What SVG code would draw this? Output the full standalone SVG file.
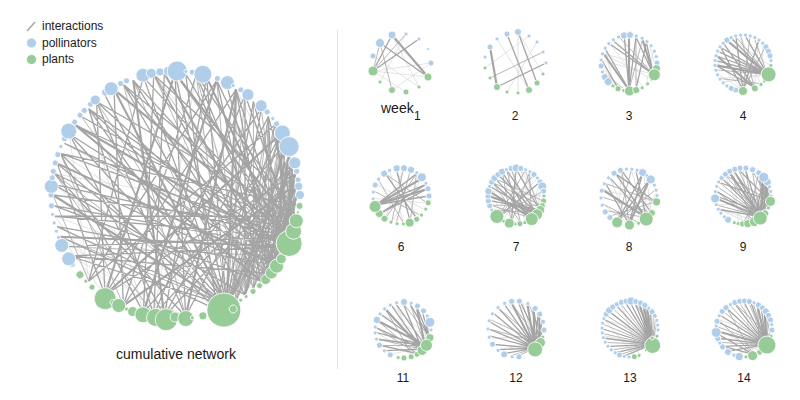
<svg xmlns="http://www.w3.org/2000/svg" width="800" height="400" viewBox="0 0 800 400">
<style>
.b{fill:#b0cde9;stroke:#fff;stroke-width:.8}
.g{fill:#97cb97;stroke:#fff;stroke-width:.8}
.e path{fill:none;stroke:#a4a4a4;vector-effect:non-scaling-stroke}
.e .w1{stroke-width:.8}
.e .w2{stroke-width:1.3}
.e .w3{stroke-width:2.1}
.e .lt{stroke:#dcdcdc;stroke-width:.8}
text{font-family:"Liberation Sans",Arial,Helvetica,sans-serif;fill:#1a1a1a}
.lab{font-size:12px;text-anchor:middle}
</style>
<rect width="800" height="400" fill="#fff"/>

<g id="legend">
<line x1="27" y1="31" x2="35" y2="22" stroke="#a4a4a4" stroke-width="1.4"/>
<text x="42" y="29.5" font-size="12">interactions</text>
<circle class="b" cx="31.5" cy="43" r="5" stroke="none"/>
<text x="42" y="46.5" font-size="12">pollinators</text>
<circle class="g" cx="31.5" cy="59.5" r="5" stroke="none"/>
<text x="42" y="63" font-size="12">plants</text>
</g>

<line id="divider" x1="337.5" y1="30" x2="337.5" y2="369" stroke="#e2e2e2" stroke-width="1"/>

<g id="cumulative">
<g class="e" transform="translate(175,195) scale(122)">
<path class="lt" d="M-.574 .819L-.94 .342M-.707 .707L-.866 -.5M-.423 .906L-.985 .174M.985 .174L-.985 -.174M.996 .087L.5 -.866M-.087 .996L-.94 .342M.087 .996L-.866 .5M.342 .94L-.996 -.087M-.174 .985L.174 -.985M.94 .342L-.174 -.985M.707 .707L-.94 -.342M.643 .766L-.985 .174M-.259 .966L-.707 -.707"/>
<path class="w1" d="M.866 .5L.966 -.259M.866 .5L.996 -.087M.866 .5L1 0M.866 .5L.866 -.5M.866 .5L.707 -.707M.766 .643L.966 -.259M.766 .643L.996 -.087M.766 .643L1 0M.766 .643L.766 -.643M.643 .766L.94 -.342M.643 .766L.985 -.174M.643 .766L1 0M.643 .766L.866 -.5M.643 .766L.643 -.766M.5 .866L.906 -.423M.5 .866L.966 -.259M.5 .866L.996 -.087M.5 .866L.766 -.643M.423 .906L.94 -.342M.423 .906L.985 -.174M.423 .906L1 0M.707 .707L.866 -.5M.707 .707L.94 -.342M.707 .707L.985 -.174M.707 .707L1 0M.707 .707L.766 -.643M.574 .819L.819 -.574M.574 .819L.966 -.259M.574 .819L.996 -.087M.819 .574L.94 -.342M.819 .574L1 0M.906 .423L.996 -.087M.906 .423L1 0M.94 .342L.966 -.259M.94 .342L1 0M.5 .866L.5 -.866M.5 .866L.342 -.94M.643 .766L.174 -.985M.643 .766L-.174 -.985M-.174 .985L-.985 -.174M-.423 .906L-.94 -.342M-.707 .707L-1 0M.342 .94L-.766 -.643M.087 .996L-.423 -.906M.866 .5L-.906 -.423M.866 .5L-.174 -.985M.866 .5L-.906 .423M.574 .819L.766 -.643M.5 .866L.94 -.342M.423 .906L.906 -.423M.423 .906L-.94 .342M.423 .906L-.985 -.174M.423 .906L-.643 -.766M.423 .906L-.342 -.94M.423 .906L.174 -.985M.423 .906L.574 -.819M.423 .906L.819 -.574M.342 .94L.866 -.5M.342 .94L.966 -.259"/>
<path class="w2" d="M.906 .423L-.866 .5M.906 .423L-.996 .087M.906 .423L-.906 -.423M.906 .423L-.707 -.707M.906 .423L-.342 -.94M.906 .423L.087 -.996M.906 .423L.5 -.866M.906 .423L.866 -.5M.906 .423L.966 -.259M.94 .342L-.906 .423M.94 .342L-.985 .174M.94 .342L-.996 -.087M.94 .342L-.94 -.342M.94 .342L-.766 -.643M.94 .342L-.259 -.966M.94 .342L0 -1M.94 .342L.342 -.94M.94 .342L.643 -.766M.94 .342L.94 -.342M.819 .574L-.966 .259M.819 .574L-.866 -.5M.819 .574L-.643 -.766M.819 .574L-.423 -.906M.819 .574L.174 -.985M.819 .574L.423 -.906M.819 .574L.766 -.643M.819 .574L.906 -.423M.819 .574L.985 -.174M.966 .259L-1 0M.966 .259L-.819 -.574M.966 .259L-.423 -.906M.966 .259L.574 -.819M.966 .259L.866 -.5M.766 .643L-.866 .5M.766 .643L-.985 -.174M.766 .643L-.707 -.707M.766 .643L-.174 -.985M.766 .643L.5 -.866M.423 .906L-.866 .5M.423 .906L-.966 .259M.423 .906L-.966 -.259M.423 .906L-.866 -.5M.423 .906L-.707 -.707M.423 .906L-.259 -.966M.423 .906L0 -1M.423 .906L.259 -.966M.423 .906L.707 -.707M.423 .906L.866 -.5M.423 .906L.996 -.087M.342 .94L-.94 .342M.342 .94L-.94 -.342M.342 .94L-.574 -.819M.342 .94L.087 -.996M.342 .94L.643 -.766M.087 .996L-.985 -.174M.087 .996L-.643 -.766M.087 .996L0 -1M.087 .996L.866 -.5M-.087 .996L-.866 -.5M-.087 .996L.259 -.966M-.087 .996L.766 -.643M-.087 .996L.985 -.174M-.174 .985L-.707 -.707M-.174 .985L-.087 -.996M-.174 .985L.574 -.819M-.174 .985L.966 -.259M-.259 .966L-.94 -.342M-.259 .966L-.174 -.985M-.259 .966L.906 -.423M-.423 .906L-.5 -.866M-.423 .906L.174 -.985M-.423 .906L.707 -.707M-.574 .819L-.966 -.259M-.574 .819L-.643 -.766M-.574 .819L.5 -.866M-.574 .819L.985 -.174M-.707 .707L-.259 -.966M-.707 .707L.342 -.94M-.707 .707L.819 -.574M.985 .174L-.985 .174M.985 .174L-.643 -.766M.985 .174L.174 -.985M.985 .174L.766 -.643M.996 .087L-.94 -.342M.996 .087L-.174 -.985M.707 .707L-.996 .087M.707 .707L-.342 -.94M.707 .707L.342 -.94M.707 .707L.996 -.087M.574 .819L-.996 -.087M.574 .819L-.423 -.906M.574 .819L.574 -.819"/>
<path class="w3" d="M.906 .423L-.94 .342M.906 .423L-.819 -.574M.906 .423L.259 -.966M.423 .906L-1 0M.423 .906L-.5 -.866M.423 .906L.5 -.866M.423 .906L.966 -.259M.819 .574L-.966 -.259M.819 .574L-.087 -.996M.94 .342L-.5 -.866M.94 .342L.819 -.574M-.574 .819L0 -1M-.574 .819L.866 -.5M-.087 .996L-.342 -.94M-.259 .966L.342 -.94M.707 .707L-.819 -.574M.966 .259L0 -1M.766 .643L.94 -.342M.866 .5L.985 -.174M.574 .819L.906 -.423M-.423 .906L.996 -.087M.087 .996L.5 -.866"/>
</g>
<g id="cumulative-pollinators" transform="translate(175,195)">
<circle class="b" r="3" transform="rotate(146)translate(124)"/>
<circle class="b" r="7" transform="rotate(149)translate(124)"/>
<circle class="b" r="7" transform="rotate(156)translate(124)"/>
<circle class="b" r="2" transform="rotate(160)translate(124)"/>
<circle class="b" r="2" transform="rotate(163)translate(124)"/>
<circle class="b" r="2" transform="rotate(167)translate(124)"/>
<circle class="b" r="2" transform="rotate(171)translate(124)"/>
<circle class="b" r="3" transform="rotate(175)translate(124)"/>
<circle class="b" r="3" transform="rotate(180)translate(124)"/>
<circle class="b" r="7" transform="rotate(184)translate(124)"/>
<circle class="b" r="3" transform="rotate(188)translate(124)"/>
<circle class="b" r="3" transform="rotate(191)translate(124)"/>
<circle class="b" r="3" transform="rotate(195)translate(124)"/>
<circle class="b" r="3" transform="rotate(199)translate(124)"/>
<circle class="b" r="2" transform="rotate(203)translate(124)"/>
<circle class="b" r="3" transform="rotate(207)translate(124)"/>
<circle class="b" r="8" transform="rotate(211)translate(124)"/>
<circle class="b" r="3" transform="rotate(216)translate(124)"/>
<circle class="b" r="3" transform="rotate(220)translate(124)"/>
<circle class="b" r="3" transform="rotate(223)translate(124)"/>
<circle class="b" r="3" transform="rotate(227)translate(124)"/>
<circle class="b" r="5" transform="rotate(230)translate(124)"/>
<circle class="b" r="4" transform="rotate(236)translate(124)"/>
<circle class="b" r="7" transform="rotate(239)translate(124)"/>
<circle class="b" r="3" transform="rotate(244)translate(124)"/>
<circle class="b" r="3" transform="rotate(247)translate(124)"/>
<circle class="b" r="7" transform="rotate(255)translate(124)"/>
<circle class="b" r="5" transform="rotate(259)translate(124)"/>
<circle class="b" r="4" transform="rotate(263)translate(124)"/>
<circle class="b" r="5" transform="rotate(267)translate(124)"/>
<circle class="b" r="10" transform="rotate(271)translate(124)"/>
<circle class="b" r="2" transform="rotate(275)translate(124)"/>
<circle class="b" r="3" transform="rotate(278)translate(124)"/>
<circle class="b" r="9" transform="rotate(283)translate(124)"/>
<circle class="b" r="3" transform="rotate(290)translate(124)"/>
<circle class="b" r="7" transform="rotate(295)translate(124)"/>
<circle class="b" r="2" transform="rotate(298)translate(124)"/>
<circle class="b" r="3" transform="rotate(302)translate(124)"/>
<circle class="b" r="6" transform="rotate(306)translate(124)"/>
<circle class="b" r="6" transform="rotate(314)translate(124)"/>
<circle class="b" r="3" transform="rotate(318)translate(124)"/>
<circle class="b" r="2" transform="rotate(322)translate(124)"/>
<circle class="b" r="3" transform="rotate(325)translate(124)"/>
<circle class="b" r="8" transform="rotate(330)translate(124)"/>
<circle class="b" r="10" transform="rotate(337)translate(124)"/>
<circle class="b" r="6" transform="rotate(345)translate(124)"/>
<circle class="b" r="3" transform="rotate(349)translate(124)"/>
<circle class="b" r="3" transform="rotate(353)translate(124)"/>
<circle class="b" r="4" transform="rotate(356)translate(124)"/>
<circle class="b" r="4.5" transform="rotate(0)translate(125)"/>
</g>
<g id="cumulative-plants" transform="translate(175,195)">
<circle class="g" r="4" transform="rotate(140)translate(124)"/>
<circle class="g" r="2" transform="rotate(136)translate(124)"/>
<circle class="g" r="3" transform="rotate(132)translate(124)"/>
<circle class="g" r="11" transform="rotate(124)translate(125)"/>
<circle class="g" r="3" transform="rotate(120)translate(124)"/>
<circle class="g" r="7" transform="rotate(117)translate(124)"/>
<circle class="g" r="2" transform="rotate(113)translate(124)"/>
<circle class="g" r="5" transform="rotate(110)translate(124)"/>
<circle class="g" r="8" transform="rotate(105)translate(124)"/>
<circle class="g" r="9" transform="rotate(99)translate(124)"/>
<circle class="g" r="11" transform="rotate(94)translate(125)"/>
<circle class="g" r="5" transform="rotate(90)translate(122)"/>
<circle class="g" r="8" transform="rotate(85)translate(124)"/>
<circle class="g" r="2" transform="rotate(82)translate(124)"/>
<circle class="g" r="4" transform="rotate(77)translate(124)"/>
<circle class="g" r="2" transform="rotate(58)translate(124)"/>
<circle class="g" r="2" transform="rotate(55)translate(124)"/>
<circle class="g" r="3" transform="rotate(51)translate(124)"/>
<circle class="g" r="3" transform="rotate(47)translate(124)"/>
<circle class="g" r="5" transform="rotate(43)translate(124)"/>
<circle class="g" r="6" transform="rotate(39)translate(124)"/>
<circle class="g" r="7" transform="rotate(35)translate(124)"/>
<circle class="g" r="5" transform="rotate(31)translate(124)"/>
<circle class="g" r="13" transform="rotate(23)translate(124)"/>
<circle class="g" r="8" transform="rotate(17)translate(124)"/>
<circle class="g" r="7" transform="rotate(12)translate(124)"/>
<circle class="g" r="1.5" transform="rotate(8)translate(124)"/>
<circle class="g" r="3.5" transform="rotate(5)translate(125)"/>
<circle class="g" r="17" transform="rotate(67)translate(125)"/>
<circle class="g" r="4" transform="rotate(63)translate(128)"/>
</g>
<text x="176" y="359" font-size="14" text-anchor="middle">cumulative network</text>
</g>

<g id="week1">
<g class="e">
<path class="lt" d="M373 71L428 77M392 90L431 63M419 87L373 56M406 92L373 71M373 71L431 63M380 82L406 34M419 87L392 35"/>
<path class="w1" d="M373 71L380 43M392 90L380 43M373 71L406 34"/>
<path class="w2" d="M373 71L392 35M373 71L419 39M380 43L428 77"/>
<path class="w3" d="M392 35L428 77"/>
</g>
<circle class="b" cx="380" cy="43" r="4.5"/>
<circle class="b" cx="392" cy="35" r="4"/>
<circle class="b" cx="406" cy="34" r="2"/>
<circle class="b" cx="419" cy="39" r="2"/>
<circle class="b" cx="373" cy="56" r="3"/>
<circle class="b" cx="428" cy="49" r="1.5"/>
<circle class="b" cx="431" cy="63" r="3"/>
<circle class="g" cx="373" cy="71" r="5"/>
<circle class="g" cx="428" cy="77" r="4"/>
<circle class="g" cx="380" cy="82" r="2"/>
<circle class="g" cx="392" cy="90" r="3.5"/>
<circle class="g" cx="406" cy="92" r="3"/>
<circle class="g" cx="419" cy="87" r="2"/>
<text x="381" y="113" font-size="14">week</text>
<text x="414" y="120" font-size="12">1</text>
</g>

<g id="week2">
<g class="e">
<path class="lt" d="M518 32L518 93M497 39L529 90M537 42L507 92M529 36L485 68M518 32L543 74"/>
<path class="w1" d="M543 52L490 78"/>
<path class="w2" d="M507 34L529 90M518 32L537 83M546 63L497 87"/>
<path class="w3" d="M490 47L497 87"/>
</g>
<circle class="b" cx="518" cy="32" r="3.5"/>
<circle class="b" cx="507" cy="34" r="3"/>
<circle class="b" cx="529" cy="36" r="2"/>
<circle class="b" cx="497" cy="39" r="2"/>
<circle class="b" cx="537" cy="42" r="2"/>
<circle class="b" cx="490" cy="47" r="3"/>
<circle class="b" cx="543" cy="52" r="2"/>
<circle class="b" cx="485" cy="57" r="2"/>
<circle class="b" cx="546" cy="63" r="2"/>
<circle class="g" cx="485" cy="68" r="2"/>
<circle class="g" cx="543" cy="74" r="2"/>
<circle class="g" cx="490" cy="78" r="2"/>
<circle class="g" cx="537" cy="83" r="3"/>
<circle class="g" cx="497" cy="87" r="3.5"/>
<circle class="g" cx="529" cy="90" r="3.5"/>
<circle class="g" cx="507" cy="92" r="2"/>
<circle class="g" cx="518" cy="93" r="2"/>
<text class="lab" x="515" y="120">2</text>
</g>

<g id="week3">
<g class="e" transform="translate(629,63) scale(27)">
<path class="lt" d="M.985 .174L.766 -.643M-.423 .906L-.996 .087M.5 .866L-.707 -.707M.819 .574L-.94 -.342M-.574 .819L-.866 -.5M.643 .766L.906 -.423M.906 .423L-.996 -.087M.985 .174L-.94 -.342"/>
<path class="w1" d="M.259 .966L.259 -.966M-.174 .985L-.94 .342M0 1L.5 -.866M.906 .423L-.342 -.94"/>
<path class="w2" d="M0 1L-.174 -.985M0 1L.259 -.966M0 1L-.866 -.5M.906 .423L-.707 -.707M.906 .423L-.574 -.819M.906 .423L.259 -.966M.906 .423L.643 -.766M.259 .966L.643 -.766M-.423 .906L-.996 -.087"/>
<path class="w3" d="M0 1L0 -1M0 1L-.94 -.342M.906 .423L.5 -.866"/>
</g>
<g transform="translate(629,63)">
<circle class="b" r="3.5" transform="rotate(260)translate(28)"/>
<circle class="b" r="3.5" transform="rotate(272)translate(28)"/>
<circle class="b" r="2" transform="rotate(285)translate(28)"/>
<circle class="b" r="2" transform="rotate(298)translate(28)"/>
<circle class="b" r="2" transform="rotate(310)translate(28)"/>
<circle class="b" r="2" transform="rotate(322)translate(28)"/>
<circle class="b" r="2" transform="rotate(335)translate(28)"/>
<circle class="b" r="2" transform="rotate(347)translate(28)"/>
<circle class="b" r="3" transform="rotate(0)translate(28)"/>
<circle class="b" r="2" transform="rotate(248)translate(28)"/>
<circle class="b" r="2" transform="rotate(236)translate(28)"/>
<circle class="b" r="2" transform="rotate(224)translate(28)"/>
<circle class="b" r="2" transform="rotate(212)translate(28)"/>
<circle class="b" r="2" transform="rotate(199)translate(28)"/>
<circle class="b" r="2" transform="rotate(186)translate(28)"/>
<circle class="b" r="3" transform="rotate(174)translate(28)"/>
<circle class="b" r="2" transform="rotate(161)translate(28)"/>
<circle class="b" r="3.5" transform="rotate(150)translate(28)"/>
<circle class="b" r="4" transform="rotate(138)translate(28)"/>
<circle class="g" r="2" transform="rotate(125)translate(28)"/>
<circle class="g" r="3" transform="rotate(113)translate(28)"/>
<circle class="g" r="2" transform="rotate(101)translate(28)"/>
<circle class="g" r="5" transform="rotate(89)translate(28)"/>
<circle class="g" r="3.5" transform="rotate(75)translate(28)"/>
<circle class="g" r="2" transform="rotate(62)translate(28)"/>
<circle class="g" r="2" transform="rotate(48)translate(28)"/>
<circle class="g" r="2" transform="rotate(36)translate(28)"/>
<circle class="g" r="4" transform="rotate(12)translate(28)"/>
<circle class="g" r="6" transform="rotate(25)translate(28)"/>
</g>
<text class="lab" x="629" y="120">3</text>
</g>

<g id="week4">
<g class="e" transform="translate(743,63) scale(27)">
<path class="lt" d="M.906 .423L-.707 .707M.996 .087L-.423 -.906M0 1L-.996 -.087M.766 .643L.707 -.707M.643 .766L-.087 -.996M.423 .906L.574 -.819M.906 .423L-.819 .574M0 1L-.906 .423"/>
<path class="w1" d="M.906 .423L-.966 .259M.906 .423L-.259 -.966M.906 .423L.423 -.906M0 1L.259 -.966M0 1L.819 -.574M.423 .906L-.087 -.996M.643 .766L-.819 .574"/>
<path class="w2" d="M.906 .423L-.906 -.423M.906 .423L-.819 -.574M.906 .423L-.966 -.259M.906 .423L-.996 -.087M.906 .423L-.423 -.906M.906 .423L.087 -.996M0 1L-.819 -.574M0 1L-.259 -.966M0 1L.574 -.819M.423 .906L-.996 .087M.423 .906L-.707 -.707"/>
<path class="w3" d="M.906 .423L-.574 -.819M.423 .906L-.966 -.259M.906 .423L-.996 .087"/>
</g>
<g transform="translate(743,63)">
<circle class="b" r="3" transform="rotate(105)translate(28)"/>
<circle class="b" r="3" transform="rotate(115)translate(28)"/>
<circle class="b" r="2" transform="rotate(125)translate(28)"/>
<circle class="b" r="2" transform="rotate(135)translate(28)"/>
<circle class="b" r="2" transform="rotate(145)translate(28)"/>
<circle class="b" r="2" transform="rotate(155)translate(28)"/>
<circle class="b" r="2" transform="rotate(165)translate(28)"/>
<circle class="b" r="2" transform="rotate(175)translate(28)"/>
<circle class="b" r="2" transform="rotate(185)translate(28)"/>
<circle class="b" r="2" transform="rotate(195)translate(28)"/>
<circle class="b" r="2" transform="rotate(205)translate(28)"/>
<circle class="b" r="2" transform="rotate(215)translate(28)"/>
<circle class="b" r="2" transform="rotate(225)translate(28)"/>
<circle class="b" r="3" transform="rotate(235)translate(28)"/>
<circle class="b" r="2" transform="rotate(245)translate(28)"/>
<circle class="b" r="2" transform="rotate(255)translate(28)"/>
<circle class="b" r="2" transform="rotate(265)translate(28)"/>
<circle class="b" r="2" transform="rotate(275)translate(28)"/>
<circle class="b" r="2" transform="rotate(285)translate(28)"/>
<circle class="b" r="2" transform="rotate(295)translate(28)"/>
<circle class="b" r="2" transform="rotate(305)translate(28)"/>
<circle class="b" r="2" transform="rotate(315)translate(28)"/>
<circle class="b" r="3" transform="rotate(325)translate(28)"/>
<circle class="b" r="3" transform="rotate(335)translate(28)"/>
<circle class="b" r="3" transform="rotate(345)translate(28)"/>
<circle class="b" r="2" transform="rotate(355)translate(28)"/>
<circle class="g" r="2" transform="rotate(5)translate(28)"/>
<circle class="g" r="2" transform="rotate(40)translate(28)"/>
<circle class="g" r="2" transform="rotate(50)translate(28)"/>
<circle class="g" r="3.5" transform="rotate(65)translate(28)"/>
<circle class="g" r="4.5" transform="rotate(90)translate(28)"/>
<circle class="g" r="7.5" transform="rotate(24)translate(28)"/>
</g>
<text class="lab" x="743" y="120">4</text>
</g>

<g id="week6">
<g class="e" transform="translate(401,196) scale(27)">
<path class="lt" d="M.866 .5L-.906 -.423M-.574 .819L.087 -.996M.087 .996L-.423 -.906M-.342 .94L.766 -.643M.966 .259L-.996 .087M.574 .819L-.174 -.985"/>
<path class="w1" d="M.966 .259L-.574 -.819M-.342 .94L.087 -.996M.087 .996L-.819 -.574M-.174 .985L.342 -.94M.707 .707L-.985 -.174M-.574 .819L.574 -.819M.342 .94L.574 -.819"/>
<path class="w2" d="M-.94 .342L1 0M-.94 .342L.906 -.423M-.94 .342L.574 -.819M-.766 .643L.906 -.423M.342 .94L-.174 -.985M.574 .819L-.574 -.819M-.766 .643L.966 -.259"/>
<path class="w3" d="M-.94 .342L.966 -.259M-.94 .342L.766 -.643"/>
</g>
<g transform="translate(401,196)">
<circle class="b" r="3" transform="rotate(0)translate(28)"/>
<circle class="b" r="3" transform="rotate(345)translate(28)"/>
<circle class="b" r="2" transform="rotate(333)translate(28)"/>
<circle class="b" r="4.5" transform="rotate(318)translate(28)"/>
<circle class="b" r="2" transform="rotate(304)translate(28)"/>
<circle class="b" r="3.5" transform="rotate(291)translate(28)"/>
<circle class="b" r="3.5" transform="rotate(276)translate(28)"/>
<circle class="b" r="3.5" transform="rotate(261)translate(28)"/>
<circle class="b" r="2" transform="rotate(246)translate(28)"/>
<circle class="b" r="3.5" transform="rotate(233)translate(28)"/>
<circle class="b" r="2" transform="rotate(217)translate(28)"/>
<circle class="b" r="3" transform="rotate(203)translate(28)"/>
<circle class="b" r="2" transform="rotate(188)translate(28)"/>
<circle class="b" r="2" transform="rotate(174)translate(28)"/>
<circle class="g" r="4" transform="rotate(141)translate(28)"/>
<circle class="g" r="6" transform="rotate(158)translate(28)"/>
<circle class="g" r="3.5" transform="rotate(126)translate(28)"/>
<circle class="g" r="2" transform="rotate(111)translate(28)"/>
<circle class="g" r="2" transform="rotate(98)translate(28)"/>
<circle class="g" r="2" transform="rotate(85)translate(28)"/>
<circle class="g" r="4.5" transform="rotate(72)translate(28)"/>
<circle class="g" r="3" transform="rotate(56)translate(28)"/>
<circle class="g" r="2" transform="rotate(43)translate(28)"/>
<circle class="g" r="2" transform="rotate(28)translate(28)"/>
<circle class="g" r="3" transform="rotate(14)translate(28)"/>
</g>
<text class="lab" x="401" y="251">6</text>
</g>

<g id="week7">
<g class="e" transform="translate(516,196) scale(27)">
<path class="lt" d="M1 0L-.985 -.174M.342 .94L-.174 -.985M-.5 .866L.766 -.643M.643 .766L.174 -.985M.866 .5L-.643 -.766M-.643 .766L-.174 -.985M.766 .643L.94 -.342M.94 .342L.174 -.985M-.342 .94L-.985 -.174M.5 .866L.866 -.5"/>
<path class="w1" d="M.574 .819L-.174 -.985M.866 .5L.342 -.94M.574 .819L.5 -.866M-.174 .985L-.5 -.866M-.174 .985L.5 -.866M-.643 .766L.643 -.766M-.643 .766L.342 -.94M-.643 .766L.985 -.174M.94 .342L-.866 -.5M.94 .342L-.94 .342M.985 .174L-.766 -.643M.174 .985L-.342 -.94M.174 .985L-.866 -.5M.766 .643L-.866 .5M.574 .819L-.94 .342"/>
<path class="w2" d="M.766 .643L-.94 -.342M.866 .5L-.985 .174M.574 .819L-.766 -.643M.574 .819L-.5 -.866M.766 .643L-.342 -.94M.866 .5L0 -1M-.174 .985L0 -1M-.643 .766L.866 -.5M.574 .819L-.866 -.5M.766 .643L-.643 -.766"/>
<path class="w3" d="M.574 .819L-.985 -.174M.766 .643L-1 0"/>
</g>
<g transform="translate(516,196)">
<circle class="b" r="2" transform="rotate(150)translate(28)"/>
<circle class="b" r="3" transform="rotate(160)translate(28)"/>
<circle class="b" r="3" transform="rotate(170)translate(28)"/>
<circle class="b" r="3" transform="rotate(180)translate(28)"/>
<circle class="b" r="3.5" transform="rotate(190)translate(28)"/>
<circle class="b" r="2" transform="rotate(200)translate(28)"/>
<circle class="b" r="3" transform="rotate(210)translate(28)"/>
<circle class="b" r="3.5" transform="rotate(220)translate(28)"/>
<circle class="b" r="3" transform="rotate(230)translate(28)"/>
<circle class="b" r="3.5" transform="rotate(240)translate(28)"/>
<circle class="b" r="2" transform="rotate(250)translate(28)"/>
<circle class="b" r="3" transform="rotate(260)translate(28)"/>
<circle class="b" r="4" transform="rotate(270)translate(28)"/>
<circle class="b" r="3" transform="rotate(280)translate(28)"/>
<circle class="b" r="2" transform="rotate(290)translate(28)"/>
<circle class="b" r="2" transform="rotate(300)translate(28)"/>
<circle class="b" r="3" transform="rotate(310)translate(28)"/>
<circle class="b" r="2" transform="rotate(320)translate(28)"/>
<circle class="b" r="3" transform="rotate(330)translate(28)"/>
<circle class="b" r="4.5" transform="rotate(340)translate(28)"/>
<circle class="b" r="3" transform="rotate(350)translate(28)"/>
<circle class="g" r="2" transform="rotate(0)translate(28)"/>
<circle class="g" r="3" transform="rotate(10)translate(28)"/>
<circle class="g" r="3" transform="rotate(20)translate(28)"/>
<circle class="g" r="4.5" transform="rotate(30)translate(28)"/>
<circle class="g" r="5.5" transform="rotate(41)translate(28)"/>
<circle class="g" r="6.5" transform="rotate(56)translate(28)"/>
<circle class="g" r="2" transform="rotate(72)translate(28)"/>
<circle class="g" r="3" transform="rotate(82)translate(28)"/>
<circle class="g" r="2" transform="rotate(92)translate(28)"/>
<circle class="g" r="5" transform="rotate(104)translate(28)"/>
<circle class="g" r="2" transform="rotate(117)translate(28)"/>
<circle class="g" r="7" transform="rotate(133)translate(28)"/>
</g>
<text class="lab" x="516" y="251">7</text>
</g>

<g id="week8">
<g class="e" transform="translate(629,197) scale(27)">
<path class="lt" d="M.643 .766L.087 -.996M0 1L-.966 .259M.819 .574L.643 -.766M-.423 .906L-.259 -.966M.985 .174L-.966 -.259M.342 .94L.996 -.087M0 1L-.707 -.707M.643 .766L.574 -.819"/>
<path class="w1" d="M-.423 .906L.966 -.259M.985 .174L-.866 -.5M.819 .574L-1 0M0 1L-.259 -.966M.342 .94L-.966 .259M-.423 .906L.087 -.996M.643 .766L-.866 .5M.985 .174L-.707 .707"/>
<path class="w2" d="M.643 .766L-.707 -.707M.643 .766L-.5 -.866M0 1L.5 -.866M-.423 .906L.766 -.643M-.423 .906L.5 -.866M.985 .174L-.5 -.866M.819 .574L-.259 -.966M.643 .766L.259 -.966M0 1L-.866 -.5"/>
<path class="w3" d="M.643 .766L-.966 -.259M0 1L.766 -.643"/>
</g>
<g transform="translate(629,197)">
<circle class="b" r="3" transform="rotate(133)translate(28)"/>
<circle class="b" r="3" transform="rotate(148)translate(28)"/>
<circle class="b" r="2" transform="rotate(163)translate(28)"/>
<circle class="b" r="2" transform="rotate(178)translate(28)"/>
<circle class="b" r="2.5" transform="rotate(193)translate(28)"/>
<circle class="b" r="2" transform="rotate(208)translate(28)"/>
<circle class="b" r="2" transform="rotate(223)translate(28)"/>
<circle class="b" r="3" transform="rotate(238)translate(28)"/>
<circle class="b" r="3" transform="rotate(252)translate(28)"/>
<circle class="b" r="2" transform="rotate(265)translate(28)"/>
<circle class="b" r="2" transform="rotate(276)translate(28)"/>
<circle class="b" r="2" transform="rotate(287)translate(28)"/>
<circle class="b" r="4" transform="rotate(299)translate(28)"/>
<circle class="b" r="2" transform="rotate(310)translate(28)"/>
<circle class="b" r="4.5" transform="rotate(321)translate(28)"/>
<circle class="b" r="2" transform="rotate(335)translate(28)"/>
<circle class="b" r="2" transform="rotate(346)translate(28)"/>
<circle class="b" r="2" transform="rotate(357)translate(28)"/>
<circle class="g" r="4" transform="rotate(10)translate(28)"/>
<circle class="g" r="3.5" transform="rotate(35)translate(28)"/>
<circle class="g" r="2" transform="rotate(70)translate(28)"/>
<circle class="g" r="7" transform="rotate(52)translate(28)"/>
<circle class="g" r="5.5" transform="rotate(115)translate(28)"/>
<circle class="g" r="5" transform="rotate(89)translate(28)"/>
</g>
<text class="lab" x="629" y="251">8</text>
</g>

<g id="week9">
<g class="e" transform="translate(743,196) scale(27)">
<path class="lt" d="M.174 .985L-.866 .5M0 1L-.643 -.766M-.174 .985L-.342 -.94M.985 .174L-.94 .342M.423 .906L-.866 .5M.174 .985L0 -1"/>
<path class="w1" d="M.643 .766L-.94 .342M.643 .766L-.94 -.342M.643 .766L-.866 -.5M.643 .766L-.643 -.766M.643 .766L-.174 -.985M.643 .766L.342 -.94M.985 .174L-.643 -.766M.985 .174L.342 -.94M.766 .643L-.766 -.643M.766 .643L.574 -.819M.423 .906L-.985 -.174M.423 .906L-.5 -.866M.423 .906L.087 -.996M.766 .643L.94 -.342M.766 .643L.985 -.174M.766 .643L1 0M.643 .766L.866 -.5M.643 .766L.94 -.342M.643 .766L.985 -.174M.423 .906L.866 -.5M.423 .906L.985 -.174M.906 .423L.766 -.643M.906 .423L.866 -.5M.906 .423L.94 -.342M.174 .985L.574 -.819M0 1L.866 -.5M.985 .174L.766 -.643"/>
<path class="w2" d="M.643 .766L-.866 .5M.643 .766L-.985 -.174M.643 .766L-.766 -.643M.643 .766L-.342 -.94M.643 .766L.087 -.996M.985 .174L-.866 -.5M.985 .174L-.174 -.985M.766 .643L-1 0M.766 .643L-.342 -.94M.423 .906L.766 -.643M.423 .906L.94 -.342M.906 .423L.574 -.819"/>
<path class="w3" d="M.643 .766L-.996 .087M.643 .766L-.5 -.866M.643 .766L.766 -.643M.766 .643L.866 -.5"/>
</g>
<g transform="translate(743,196)">
<circle class="b" r="3.5" transform="rotate(122)translate(28)"/>
<circle class="b" r="2" transform="rotate(132)translate(28)"/>
<circle class="b" r="2" transform="rotate(142)translate(28)"/>
<circle class="b" r="2" transform="rotate(152)translate(28)"/>
<circle class="b" r="2" transform="rotate(162)translate(28)"/>
<circle class="b" r="4.5" transform="rotate(175)translate(28)"/>
<circle class="b" r="2" transform="rotate(189)translate(28)"/>
<circle class="b" r="2" transform="rotate(200)translate(28)"/>
<circle class="b" r="2" transform="rotate(210)translate(28)"/>
<circle class="b" r="2.5" transform="rotate(220)translate(28)"/>
<circle class="b" r="3" transform="rotate(231)translate(28)"/>
<circle class="b" r="3" transform="rotate(242)translate(28)"/>
<circle class="b" r="3" transform="rotate(253)translate(28)"/>
<circle class="b" r="3" transform="rotate(264)translate(28)"/>
<circle class="b" r="3" transform="rotate(276)translate(28)"/>
<circle class="b" r="3" transform="rotate(290)translate(28)"/>
<circle class="b" r="3" transform="rotate(304)translate(28)"/>
<circle class="b" r="4" transform="rotate(330)translate(28)"/>
<circle class="b" r="5" transform="rotate(318)translate(28)"/>
<circle class="b" r="2" transform="rotate(341)translate(28)"/>
<circle class="b" r="2" transform="rotate(351)translate(28)"/>
<circle class="b" r="2" transform="rotate(0)translate(28)"/>
<circle class="g" r="2" transform="rotate(108)translate(28)"/>
<circle class="g" r="2" transform="rotate(100)translate(28)"/>
<circle class="g" r="3" transform="rotate(91)translate(28)"/>
<circle class="g" r="4" transform="rotate(80)translate(28)"/>
<circle class="g" r="5" transform="rotate(66)translate(28)"/>
<circle class="g" r="2" transform="rotate(25)translate(28)"/>
<circle class="g" r="4" transform="rotate(39)translate(28)"/>
<circle class="g" r="7" transform="rotate(52)translate(28)"/>
<circle class="g" r="5" transform="rotate(11)translate(28)"/>
</g>
<text class="lab" x="743" y="251">9</text>
</g>

<g id="week11">
<g class="e" transform="translate(403,330) scale(27)">
<path class="lt" d="M.819 .574L-.423 .906M.966 .259L-.423 -.906M.5 .866L-.259 -.966M.707 .707L.966 -.259M.342 .94L-.996 .087M.966 .259L-.819 -.574"/>
<path class="w1" d="M.5 .866L-.94 -.342M.342 .94L-.643 -.766M.966 .259L0 -1M.707 .707L-.94 .342M.5 .866L-.996 -.087M.819 .574L-.819 .574M.966 .259L.866 -.5M.819 .574L.259 -.966"/>
<path class="w2" d="M.819 .574L-.94 .342M.819 .574L-.996 .087M.707 .707L-.996 -.087M.819 .574L-.819 -.574M.707 .707L-.423 -.906M.819 .574L-.259 -.966M.966 .259L.259 -.966M.966 .259L.5 -.866M.707 .707L0 -1M.966 .259L.707 -.707M.5 .866L-.819 .574M.707 .707L-.643 .766"/>
<path class="w3" d="M.819 .574L-.94 -.342M.707 .707L-.643 -.766M.819 .574L.5 -.866"/>
</g>
<g transform="translate(403,330)">
<circle class="b" r="3" transform="rotate(117)translate(28)"/>
<circle class="b" r="2" transform="rotate(132)translate(28)"/>
<circle class="b" r="3" transform="rotate(147)translate(28)"/>
<circle class="b" r="2" transform="rotate(161)translate(28)"/>
<circle class="b" r="2" transform="rotate(174)translate(28)"/>
<circle class="b" r="2" transform="rotate(186)translate(28)"/>
<circle class="b" r="3.5" transform="rotate(201)translate(28)"/>
<circle class="b" r="2" transform="rotate(215)translate(28)"/>
<circle class="b" r="2" transform="rotate(229)translate(28)"/>
<circle class="b" r="2" transform="rotate(243)translate(28)"/>
<circle class="b" r="2" transform="rotate(257)translate(28)"/>
<circle class="b" r="3.5" transform="rotate(272)translate(28)"/>
<circle class="b" r="2" transform="rotate(287)translate(28)"/>
<circle class="b" r="3" transform="rotate(301)translate(28)"/>
<circle class="b" r="3" transform="rotate(317)translate(28)"/>
<circle class="b" r="2" transform="rotate(330)translate(28)"/>
<circle class="b" r="5" transform="rotate(344)translate(28)"/>
<circle class="b" r="2" transform="rotate(0)translate(28)"/>
<circle class="g" r="2" transform="rotate(100)translate(28)"/>
<circle class="g" r="3" transform="rotate(88)translate(28)"/>
<circle class="g" r="3" transform="rotate(73)translate(28)"/>
<circle class="g" r="3" transform="rotate(60)translate(28)"/>
<circle class="g" r="4" transform="rotate(16)translate(28)"/>
<circle class="g" r="5" transform="rotate(47)translate(28)"/>
<circle class="g" r="6" transform="rotate(33)translate(28)"/>
</g>
<text class="lab" x="403" y="382">11</text>
</g>

<g id="week12">
<g class="e" transform="translate(516,329) scale(27)">
<path class="lt" d="M.966 .259L-.94 .342M.866 .5L-.643 .766M.966 .259L-.342 -.94M.707 .707L.259 -.966"/>
<path class="w1" d="M.866 .5L-.94 -.342M.866 .5L-.643 -.766M.866 .5L-.174 -.985M.707 .707L1 0M.866 .5L.966 -.259M.966 .259L.5 -.866M.966 .259L.819 -.574M.866 .5L-1 0M.707 .707L-.174 .985M.707 .707L.087 .996"/>
<path class="w2" d="M.707 .707L-.423 .906M.707 .707L-.643 .766M.707 .707L-.819 .574M.707 .707L-.966 .259M.707 .707L-1 0M.707 .707L-.966 -.259M.707 .707L-.819 -.574M.707 .707L-.643 -.766M.707 .707L-.423 -.906M.707 .707L.087 -.996M.707 .707L.819 -.574M.707 .707L.966 -.259M.866 .5L.174 -.985M.866 .5L.643 -.766"/>
<path class="w3" d="M.707 .707L-.174 -.985M.707 .707L.423 -.906M.707 .707L.643 -.766M.866 .5L.866 -.5"/>
</g>
<g transform="translate(516,329)">
<circle class="b" r="3" transform="rotate(84)translate(28)"/>
<circle class="b" r="2" transform="rotate(98)translate(28)"/>
<circle class="b" r="3.5" transform="rotate(115)translate(28)"/>
<circle class="b" r="2" transform="rotate(130)translate(28)"/>
<circle class="b" r="3" transform="rotate(147)translate(28)"/>
<circle class="b" r="2" transform="rotate(163)translate(28)"/>
<circle class="b" r="2" transform="rotate(180)translate(28)"/>
<circle class="b" r="2" transform="rotate(197)translate(28)"/>
<circle class="b" r="2" transform="rotate(213)translate(28)"/>
<circle class="b" r="2" transform="rotate(230)translate(28)"/>
<circle class="b" r="2" transform="rotate(246)translate(28)"/>
<circle class="b" r="3" transform="rotate(261)translate(28)"/>
<circle class="b" r="3" transform="rotate(277)translate(28)"/>
<circle class="b" r="2" transform="rotate(295)translate(28)"/>
<circle class="b" r="3" transform="rotate(313)translate(28)"/>
<circle class="b" r="3" transform="rotate(328)translate(28)"/>
<circle class="b" r="2.5" transform="rotate(345)translate(28)"/>
<circle class="b" r="3" transform="rotate(2)translate(28)"/>
<circle class="g" r="2" transform="rotate(17)translate(28)"/>
<circle class="g" r="5" transform="rotate(29)translate(28)"/>
<circle class="g" r="7.5" transform="rotate(47)translate(28)"/>
</g>
<text class="lab" x="516" y="382">12</text>
</g>

<g id="week13">
<g class="e" transform="translate(630,329) scale(27)">
<path class="lt" d="M.174 .985L-.94 -.342M.342 .94L-.342 -.94M.966 .259L-.94 -.342M.819 .574L-.966 .259"/>
<path class="w1" d="M.819 .574L-.342 .94M.819 .574L-.643 .766M.819 .574L-.866 .5M.819 .574L-.985 .174M.819 .574L-.985 -.174M.819 .574L-.866 -.5M.819 .574L-.643 -.766M.819 .574L-.342 -.94M.819 .574L.342 -.94M.819 .574L.866 -.5M.819 .574L.94 -.342M.819 .574L.985 -.174M.574 .819L.5 -.866M.574 .819L.766 -.643M.966 .259L.174 -.985M.819 .574L.643 -.766M.819 .574L.574 -.819"/>
<path class="w2" d="M.819 .574L-.174 .985M.819 .574L-.5 .866M.819 .574L-.766 .643M.819 .574L-.94 .342M.819 .574L-1 0M.819 .574L-.94 -.342M.819 .574L-.766 -.643M.819 .574L-.5 -.866M.819 .574L-.174 -.985M.819 .574L0 -1M.819 .574L.174 -.985M.819 .574L.766 -.643"/>
<path class="w3" d="M.819 .574L.342 -.94M.819 .574L.5 -.866M.819 .574L.643 -.766"/>
</g>
<g transform="translate(630,329)">
<circle class="b" r="2" transform="rotate(92)translate(28)"/>
<circle class="b" r="2" transform="rotate(102)translate(28)"/>
<circle class="b" r="3" transform="rotate(112)translate(28)"/>
<circle class="b" r="2" transform="rotate(122)translate(28)"/>
<circle class="b" r="2" transform="rotate(132)translate(28)"/>
<circle class="b" r="2" transform="rotate(142)translate(28)"/>
<circle class="b" r="2" transform="rotate(152)translate(28)"/>
<circle class="b" r="2" transform="rotate(162)translate(28)"/>
<circle class="b" r="2" transform="rotate(172)translate(28)"/>
<circle class="b" r="2" transform="rotate(182)translate(28)"/>
<circle class="b" r="2" transform="rotate(192)translate(28)"/>
<circle class="b" r="2" transform="rotate(202)translate(28)"/>
<circle class="b" r="3" transform="rotate(212)translate(28)"/>
<circle class="b" r="3.5" transform="rotate(222)translate(28)"/>
<circle class="b" r="3" transform="rotate(232)translate(28)"/>
<circle class="b" r="2.5" transform="rotate(242)translate(28)"/>
<circle class="b" r="3" transform="rotate(252)translate(28)"/>
<circle class="b" r="3" transform="rotate(262)translate(28)"/>
<circle class="b" r="4" transform="rotate(272)translate(28)"/>
<circle class="b" r="3" transform="rotate(282)translate(28)"/>
<circle class="b" r="3" transform="rotate(292)translate(28)"/>
<circle class="b" r="3" transform="rotate(302)translate(28)"/>
<circle class="b" r="2" transform="rotate(312)translate(28)"/>
<circle class="b" r="3" transform="rotate(322)translate(28)"/>
<circle class="b" r="2.5" transform="rotate(332)translate(28)"/>
<circle class="b" r="2" transform="rotate(342)translate(28)"/>
<circle class="b" r="2" transform="rotate(352)translate(28)"/>
<circle class="b" r="2" transform="rotate(2)translate(28)"/>
<circle class="g" r="3" transform="rotate(81)translate(28)"/>
<circle class="g" r="2" transform="rotate(71)translate(28)"/>
<circle class="g" r="2" transform="rotate(15)translate(28)"/>
<circle class="g" r="8" transform="rotate(36)translate(28)"/>
<circle class="g" r="2" transform="rotate(22)translate(24)"/>
</g>
<text class="lab" x="630" y="382">13</text>
</g>

<g id="week14">
<g class="e" transform="translate(744,329) scale(27)">
<path class="lt" d="M.819 .574L-.342 .94M.342 .94L0 -1M.966 .259L-.94 -.342M.574 .819L-1 0"/>
<path class="w1" d="M.819 .574L-.866 .5M.819 .574L-.996 -.087M.819 .574L-.766 -.643M.819 .574L-.5 -.866M.819 .574L-.174 -.985M.819 .574L.174 -.985M.819 .574L.342 -.94M.819 .574L.94 -.342M.819 .574L1 0M.574 .819L.5 -.866M.342 .94L-.94 -.342M.342 .94L-.643 -.766M.966 .259L-.342 -.94"/>
<path class="w2" d="M.819 .574L-.574 .819M.819 .574L-.766 .643M.819 .574L-.94 .342M.819 .574L-.966 -.259M.819 .574L-.866 -.5M.819 .574L-.643 -.766M.819 .574L-.342 -.94M.819 .574L0 -1M.819 .574L.259 -.966M.819 .574L.643 -.766M.819 .574L.866 -.5M.342 .94L-.985 .174M.342 .94L-.766 .643"/>
<path class="w3" d="M.819 .574L-.996 .087M.819 .574L.5 -.866M.819 .574L.766 -.643"/>
</g>
<g transform="translate(744,329)">
<circle class="b" r="4" transform="rotate(100)translate(28)"/>
<circle class="b" r="2" transform="rotate(111)translate(28)"/>
<circle class="b" r="3.5" transform="rotate(125)translate(28)"/>
<circle class="b" r="3" transform="rotate(140)translate(28)"/>
<circle class="b" r="2" transform="rotate(150)translate(28)"/>
<circle class="b" r="3" transform="rotate(160)translate(28)"/>
<circle class="b" r="5" transform="rotate(173)translate(28)"/>
<circle class="b" r="2" transform="rotate(186)translate(28)"/>
<circle class="b" r="3" transform="rotate(196)translate(28)"/>
<circle class="b" r="2" transform="rotate(208)translate(28)"/>
<circle class="b" r="3" transform="rotate(219)translate(28)"/>
<circle class="b" r="3" transform="rotate(230)translate(28)"/>
<circle class="b" r="2" transform="rotate(241)translate(28)"/>
<circle class="b" r="3" transform="rotate(251)translate(28)"/>
<circle class="b" r="3" transform="rotate(261)translate(28)"/>
<circle class="b" r="3" transform="rotate(271)translate(28)"/>
<circle class="b" r="3" transform="rotate(281)translate(28)"/>
<circle class="b" r="2" transform="rotate(291)translate(28)"/>
<circle class="b" r="3" transform="rotate(301)translate(28)"/>
<circle class="b" r="3" transform="rotate(311)translate(28)"/>
<circle class="b" r="3.5" transform="rotate(321)translate(28)"/>
<circle class="b" r="3" transform="rotate(331)translate(28)"/>
<circle class="b" r="3" transform="rotate(341)translate(28)"/>
<circle class="b" r="2" transform="rotate(351)translate(28)"/>
<circle class="b" r="3" transform="rotate(2)translate(28)"/>
<circle class="g" r="2" transform="rotate(15)translate(28)"/>
<circle class="g" r="2" transform="rotate(86)translate(28)"/>
<circle class="g" r="3" transform="rotate(56)translate(28)"/>
<circle class="g" r="5" transform="rotate(72)translate(28)"/>
<circle class="g" r="9" transform="rotate(35)translate(28)"/>
</g>
<text class="lab" x="744" y="382">14</text>
</g>
</svg>
